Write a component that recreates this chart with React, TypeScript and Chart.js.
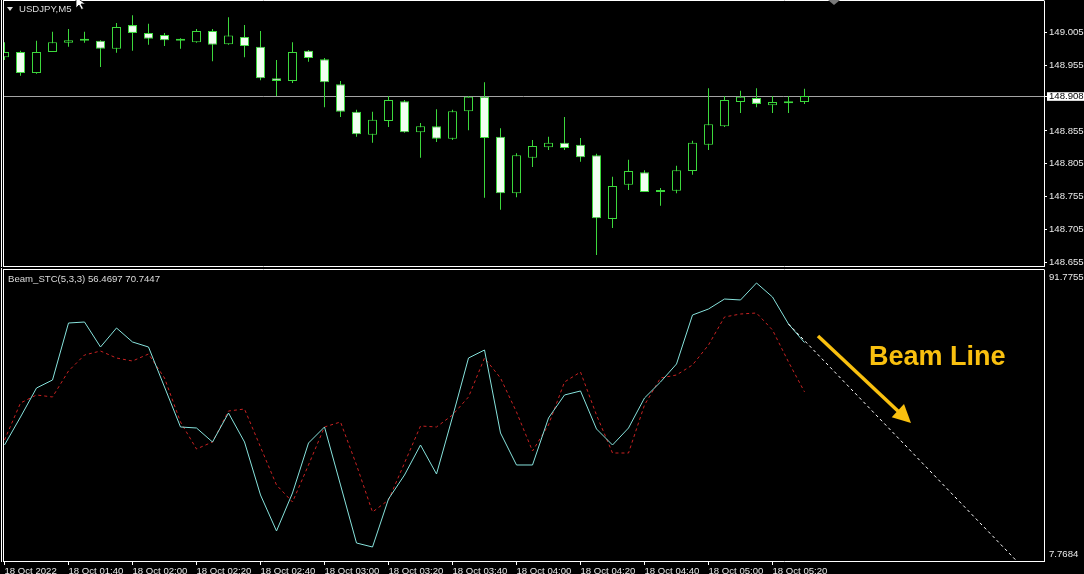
import React, { useEffect, useRef } from "react";
import { Chart, registerables } from "chart.js";

Chart.register(...registerables);

// ---------- Data (USDJPY M5, bars from 18 Oct 01:20 to 05:30) ----------
const OPEN = [
  148.967, 148.975, 148.943, 148.975, 148.989, 148.992, 148.992, 148.98, 149.016, 149.004,
  149.001, 148.992, 148.99, 149.007, 148.987, 148.998, 148.983, 148.935, 148.931, 148.977,
  148.964, 148.926, 148.884, 148.849, 148.87, 148.9, 148.853, 148.862, 148.843, 148.885,
  148.907, 148.846, 148.76, 148.814, 148.83, 148.837, 148.834, 148.818, 148.721, 148.773,
  148.792, 148.762, 148.764, 148.794, 148.834, 148.862, 148.899, 148.905, 148.894, 148.897, 148.899,
];
const HIGH = [
  148.99, 148.977, 148.992, 149.006, 149.01, 149.006, 148.993, 149.019, 149.031, 149.018,
  149.004, 148.996, 149.01, 149.01, 149.028, 149.016, 149.007, 148.963, 148.99, 148.978,
  148.966, 148.931, 148.887, 148.884, 148.908, 148.902, 148.867, 148.888, 148.887, 148.908,
  148.929, 148.859, 148.821, 148.841, 148.846, 148.876, 148.844, 148.82, 148.785, 148.811,
  148.795, 148.768, 148.802, 148.84, 148.92, 148.908, 148.916, 148.92, 148.908, 148.908, 148.919,
];
const LOW = [
  148.963, 148.939, 148.942, 148.975, 148.983, 148.989, 148.952, 148.974, 148.977, 148.986,
  148.984, 148.98, 148.989, 148.961, 148.986, 148.967, 148.932, 148.908, 148.928, 148.96,
  148.891, 148.876, 148.846, 148.837, 148.861, 148.852, 148.814, 148.838, 148.841, 148.856,
  148.753, 148.735, 148.754, 148.8, 148.826, 148.826, 148.808, 148.666, 148.707, 148.765,
  148.762, 148.741, 148.76, 148.788, 148.826, 148.861, 148.882, 148.891, 148.882, 148.882, 148.896,
];
const CLOSE = [
  148.975, 148.943, 148.975, 148.99, 148.993, 148.992, 148.98, 149.013, 149.004, 148.995,
  148.993, 148.992, 149.007, 148.986, 149.0, 148.984, 148.935, 148.931, 148.975, 148.966,
  148.929, 148.884, 148.85, 148.872, 148.902, 148.853, 148.862, 148.843, 148.885, 148.907,
  148.844, 148.76, 148.818, 148.832, 148.837, 148.829, 148.815, 148.722, 148.771, 148.794,
  148.762, 148.762, 148.795, 148.837, 148.865, 148.902, 148.907, 148.896, 148.899, 148.897, 148.908,
];

// Beam_STC main line (cyan) and signal line (red dashed)
const STC_MAIN = [
  41.08, 49.19, 57.59, 59.91, 76.42, 76.71, 69.47, 74.97, 70.92, 69.47,
  57.88, 46.3, 46.01, 41.95, 50.35, 41.95, 26.6, 16.17, 27.18, 41.66,
  46.3, 29.5, 12.69, 11.53, 25.44, 32.39, 41.08, 32.68, 49.19, 66.28,
  68.6, 44.56, 35.29, 35.29, 48.9, 55.57, 56.73, 45.72, 41.08, 46.01,
  54.7, 59.33, 64.55, 78.74, 80.48, 83.37, 83.09, 88.01, 83.95, 76.13, 70.7447,
];
const STC_SIGNAL = [
  42.53, 53.25, 55.57, 54.99, 62.52, 67.15, 68.31, 66.28, 65.41, 67.44,
  60.49, 47.75, 39.92, 41.95, 50.93, 51.51, 40.5, 29.5, 24.57, 35.29,
  46.3, 47.75, 35.29, 21.67, 25.15, 35.87, 46.59, 46.3, 49.77, 54.99,
  66.28, 60.49, 50.64, 39.34, 46.88, 59.33, 62.23, 49.77, 38.76, 38.76,
  52.67, 60.49, 61.36, 64.26, 70.05, 78.16, 79.03, 79.32, 74.4, 65.13, 56.4697,
];
// Beam projection line (bar index, value)
const BEAM_BARS = [49, 63.2];
const BEAM_VALUES = [76.13, 7.7684];

const PRICE_TICKS = [148.655, 148.705, 148.755, 148.805, 148.855, 148.955, 149.005];
const TIME_TICK_BARS = [0, 4, 8, 12, 16, 20, 24, 28, 32, 36, 40, 44, 48];
const TIME_LABELS = [
  "18 Oct 2022", "18 Oct 01:40", "18 Oct 02:00", "18 Oct 02:20", "18 Oct 02:40",
  "18 Oct 03:00", "18 Oct 03:20", "18 Oct 03:40", "18 Oct 04:00", "18 Oct 04:20",
  "18 Oct 04:40", "18 Oct 05:00", "18 Oct 05:20",
];
const IND_MAX = 91.7755;
const IND_MIN = 7.7684;
const SYMBOL = "USDJPY,M5";
const IND_NAME = "Beam_STC(5,3,3)";
const ANNOTATION = "Beam Line";

// ---------- Styling / layout constants ----------
const X_MIN = -0.09375;
const X_MAX = 64.96875;
const P_MIN = 148.64929;
const P_MAX = 149.05264;
const IND_AXIS_MIN = 7.4788;
const BID = CLOSE[CLOSE.length - 1];
const GREEN = "#3cd83c";
const CANDLE_WHITE = "#f2fff2";
const CYAN = "#86e2dc";
const RED = "#c82222";
const YELLOW = "#f9c00f";
const TXT = "#e8e8e8";
const FONT = '"Liberation Sans", Arial, sans-serif';

Chart.defaults.font.family = FONT;

const framePlugin = {
  id: "frame",
  afterDraw(chart: any) {
    const { ctx, chartArea } = chart;
    const { left, top, right, bottom } = chartArea;
    ctx.save();
    ctx.strokeStyle = "#ffffff";
    ctx.lineWidth = 1;
    ctx.beginPath();
    ctx.moveTo(left + 0.5, top - 0.5);
    ctx.lineTo(right + 0.5, top - 0.5);
    ctx.moveTo(left + 0.5, top - 1);
    ctx.lineTo(left + 0.5, bottom + 1);
    ctx.moveTo(1.5, 0);
    ctx.lineTo(1.5, bottom + 1);
    if (chart.options.frameBottom) {
      ctx.moveTo(left, bottom + 0.5);
      ctx.lineTo(right + 1, bottom + 0.5);
    }
    ctx.stroke();
    ctx.restore();
  },
};

const bidLinePlugin = {
  id: "bidLine",
  beforeDatasetsDraw(chart: any) {
    const { ctx, chartArea } = chart;
    const y = Math.round(chart.scales.y.getPixelForValue(BID)) + 0.5;
    ctx.save();
    ctx.strokeStyle = "#a4a4a4";
    ctx.lineWidth = 1;
    ctx.beginPath();
    ctx.moveTo(chartArea.left, y);
    ctx.lineTo(chartArea.right, y);
    ctx.stroke();
    ctx.restore();
  },
};

function priceConfig(): any {
  const bodies = OPEN.map((o, i) => ({ x: i, y: [o, CLOSE[i]] }));
  const wicks = LOW.map((l, i) => ({ x: i, y: [l, HIGH[i]] }));
  const ticks = [...PRICE_TICKS, BID].sort((a, b) => a - b);
  return {
    type: "bar",
    data: {
      datasets: [
        {
          label: "Body",
          data: bodies,
          order: 0,
          grouped: false,
          barThickness: 9,
          minBarLength: 2,
          inflateAmount: 0,
          borderWidth: 1,
          borderColor: GREEN,
          borderSkipped: false,
          backgroundColor: (c: any) =>
            CLOSE[c.dataIndex] < OPEN[c.dataIndex] ? CANDLE_WHITE : "#000000",
        },
        {
          label: "Wick",
          data: wicks,
          order: 1,
          grouped: false,
          barThickness: 1,
          inflateAmount: 0,
          borderWidth: 0,
          backgroundColor: GREEN,
        },
      ],
    },
    options: {
      responsive: false,
      animation: false,
      frameBottom: true,
      layout: { padding: { top: 1, left: 3, right: 0, bottom: 2 } },
      plugins: { legend: { display: false }, tooltip: { enabled: false } },
      scales: {
        x: { type: "linear", min: X_MIN, max: X_MAX, offset: false, display: false },
        y: {
          position: "right",
          min: P_MIN,
          max: P_MAX,
          afterBuildTicks: (s: any) => {
            s.ticks = ticks.map((v) => ({ value: v }));
          },
          afterFit: (s: any) => {
            s.width = 40;
            s.paddingTop = 0;
            s.paddingBottom = 0;
          },
          grid: { drawOnChartArea: false, color: "#ffffff", tickLength: 3 },
          border: { color: "#ffffff" },
          ticks: {
            padding: 2,
            font: { size: 9.6, lineHeight: 1 },
            color: (c: any) => (c.tick && c.tick.value === BID ? "#000000" : TXT),
            showLabelBackdrop: true,
            backdropColor: (c: any) =>
              c.tick && c.tick.value === BID ? "#ffffff" : "rgba(0,0,0,0)",
            backdropPadding: { top: -1, bottom: 0, left: 2, right: 1 },
            callback: (v: any) => Number(v).toFixed(3),
          },
        },
      },
    },
    plugins: [framePlugin, bidLinePlugin],
  };
}

function indicatorConfig(): any {
  const span = IND_MAX - IND_AXIS_MIN;
  const labelTicks = [IND_AXIS_MIN + span * 0.024, IND_MAX - span * 0.024];
  const labelText = [IND_MIN.toFixed(4), IND_MAX.toFixed(4)];
  return {
    type: "line",
    data: {
      datasets: [
        {
          label: "Beam",
          data: BEAM_BARS.map((b, i) => ({ x: b, y: BEAM_VALUES[i] })),
          borderColor: "#ffffff",
          borderDash: [3, 3],
          borderWidth: 1,
          pointRadius: 0,
          tension: 0,
          order: 0,
        },
        {
          label: "STC",
          data: STC_MAIN.map((v, i) => ({ x: i, y: v })),
          borderColor: CYAN,
          borderWidth: 1,
          pointRadius: 0,
          tension: 0,
          order: 1,
        },
        {
          label: "Signal",
          data: STC_SIGNAL.map((v, i) => ({ x: i, y: v })),
          borderColor: RED,
          borderDash: [3, 3],
          borderWidth: 1,
          pointRadius: 0,
          tension: 0,
          order: 2,
        },
      ],
    },
    options: {
      responsive: false,
      animation: false,
      layout: { padding: { top: 2, left: 3, right: 0, bottom: 0 } },
      plugins: { legend: { display: false }, tooltip: { enabled: false } },
      scales: {
        x: {
          type: "linear",
          min: X_MIN,
          max: X_MAX,
          offset: false,
          afterBuildTicks: (s: any) => {
            s.ticks = TIME_TICK_BARS.map((v) => ({ value: v }));
          },
          afterFit: (s: any) => {
            s.height = 13;
            s.paddingLeft = 0;
            s.paddingRight = 0;
          },
          grid: { drawOnChartArea: false, color: "#ffffff", tickLength: 4 },
          border: { color: "#ffffff" },
          ticks: {
            autoSkip: false,
            maxRotation: 0,
            minRotation: 0,
            align: "start",
            padding: 1,
            color: TXT,
            font: { size: 9.6 },
            callback: (_v: any, i: number) => TIME_LABELS[i],
          },
        },
        y: {
          position: "right",
          min: IND_AXIS_MIN,
          max: IND_MAX,
          afterBuildTicks: (s: any) => {
            s.ticks = labelTicks.map((v) => ({ value: v }));
          },
          afterFit: (s: any) => {
            s.width = 40;
            s.paddingTop = 0;
            s.paddingBottom = 0;
          },
          grid: { display: false, tickLength: 3 },
          border: { color: "#ffffff" },
          ticks: {
            padding: 2,
            color: TXT,
            font: { size: 9.6 },
            callback: (_v: any, i: number) => labelText[i],
          },
        },
      },
    },
    plugins: [framePlugin],
  };
}

export default function App() {
  const topRef = useRef<HTMLCanvasElement>(null);
  const botRef = useRef<HTMLCanvasElement>(null);

  useEffect(() => {
    document.body.style.margin = "0";
    const c1 = new Chart(topRef.current as HTMLCanvasElement, priceConfig());
    const c2 = new Chart(botRef.current as HTMLCanvasElement, indicatorConfig());
    return () => {
      c1.destroy();
      c2.destroy();
    };
  }, []);

  const lastSignal = STC_SIGNAL[STC_SIGNAL.length - 1].toFixed(4);
  const lastMain = STC_MAIN[STC_MAIN.length - 1].toFixed(4);

  return (
    <div
      style={{
        position: "fixed",
        left: 0,
        top: 0,
        width: 1084,
        height: 574,
        background: "#000",
        overflow: "hidden",
        fontFamily: FONT,
      }}
    >
      <canvas
        ref={topRef}
        width={1084}
        height={268}
        style={{ position: "absolute", left: 0, top: 0, width: 1084, height: 268 }}
      />
      <canvas
        ref={botRef}
        width={1084}
        height={306}
        style={{ position: "absolute", left: 0, top: 268, width: 1084, height: 306 }}
      />
      {/* symbol header */}
      <div
        style={{
          position: "absolute",
          left: 7,
          top: 7,
          width: 0,
          height: 0,
          borderLeft: "3.5px solid transparent",
          borderRight: "3.5px solid transparent",
          borderTop: "4px solid #dcdcdc",
        }}
      />
      <div
        style={{
          position: "absolute",
          left: 19,
          top: 4,
          fontSize: 9.6,
          lineHeight: 1,
          color: "#dcdcdc",
          whiteSpace: "nowrap",
        }}
      >
        {SYMBOL}
      </div>
      {/* chart shift marker */}
      <div
        style={{
          position: "absolute",
          left: 828,
          top: 0,
          width: 0,
          height: 0,
          borderLeft: "6px solid transparent",
          borderRight: "6px solid transparent",
          borderTop: "5px solid #7a7a7a",
        }}
      />
      {/* indicator label */}
      <div
        style={{
          position: "absolute",
          left: 8,
          top: 273.5,
          fontSize: 9.6,
          lineHeight: 1,
          color: "#dcdcdc",
          whiteSpace: "nowrap",
        }}
      >
        {`${IND_NAME} ${lastSignal} ${lastMain}`}
      </div>
      {/* annotation */}
      <svg
        width={1084}
        height={574}
        style={{ position: "absolute", left: 0, top: 0, pointerEvents: "none" }}
      >
        <line x1={818} y1={336} x2={899} y2={412} stroke={YELLOW} strokeWidth={3.5} />
        <polygon points="911,423 891.7,417.3 904,404.1" fill={YELLOW} />
        <polygon
          points="76,-3 76,8 79,5 81.5,9.5 83.5,8.5 81,4 85.5,4"
          fill="#ffffff"
          stroke="#000"
          strokeWidth={0.8}
        />
      </svg>
      <div
        style={{
          position: "absolute",
          left: 869,
          top: 343,
          fontSize: 27,
          fontWeight: "bold",
          lineHeight: 1,
          color: YELLOW,
          whiteSpace: "nowrap",
        }}
      >
        {ANNOTATION}
      </div>
    </div>
  );
}
